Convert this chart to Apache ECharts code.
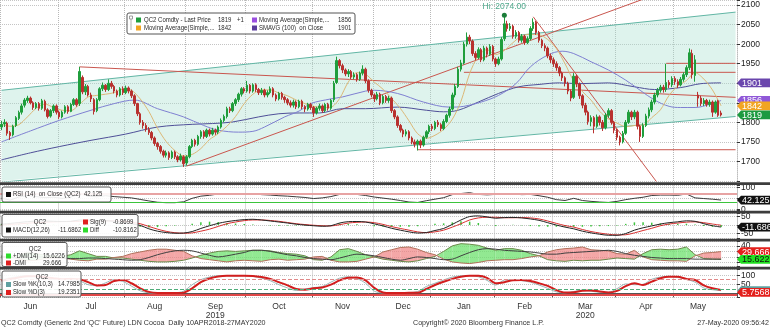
<!DOCTYPE html>
<html>
<head>
<meta charset="utf-8">
<script src="https://cdn.jsdelivr.net/npm/echarts@6/dist/echarts.min.js"></script>
<style>
  html, body { margin: 0; padding: 0; background: #ffffff; }
  #chart { width: 770px; height: 328px; }
</style>
</head>
<body>
<div id="chart"></div>
<script>
// ---------- calendar ----------
const months = ['Jun', 'Jul', 'Aug', 'Sep', 'Oct', 'Nov', 'Dec', 'Jan', 'Feb', 'Mar', 'Apr', 'May'];
const tradingDays = [20, 23, 21, 21, 23, 21, 20, 22, 20, 22, 20, 17];
const yearUnder = { Sep: '2019', Mar: '2020' };
const padDays = 5;

// ---------- daily candles [open, close, low, high] ----------
const jun19 = [[1788,1795,1780,1804],[1796,1800,1788,1808],[1798,1772,1766,1802],[1774,1766,1755,1778],[1768,1790,1764,1794],
  [1792,1812,1788,1816],[1810,1825,1806,1830],[1826,1842,1820,1848],[1844,1857,1838,1862],[1856,1862,1850,1868],
  [1862,1850,1846,1866],[1850,1838,1832,1854],[1838,1848,1834,1852],[1848,1836,1830,1852],[1836,1855,1832,1860],
  [1854,1832,1828,1858],[1832,1815,1810,1836],[1816,1830,1812,1834],[1830,1842,1824,1846],[1842,1826,1820,1846]];
const jul19 = [[1826,1814,1808,1830],[1814,1826,1810,1830],[1826,1840,1822,1844],[1840,1828,1822,1844],[1828,1846,1826,1850],
  [1846,1858,1842,1862],[1858,1845,1840,1862],[1848,1930,1842,1942],[1915,1878,1872,1920],[1878,1892,1870,1898],
  [1892,1870,1866,1896],[1870,1860,1852,1876],[1858,1828,1820,1862],[1830,1858,1826,1862],[1858,1886,1854,1890],
  [1886,1895,1880,1902],[1895,1884,1878,1898],[1884,1900,1880,1910],[1900,1892,1886,1906],[1892,1880,1874,1896],
  [1880,1870,1864,1884],[1870,1886,1866,1890],[1886,1876,1870,1892]];
const aug19 = [[1876,1888,1872,1894],[1888,1880,1874,1892],[1880,1868,1862,1884],[1868,1848,1842,1872],[1848,1822,1816,1850],
  [1822,1800,1794,1826],[1800,1792,1784,1806],[1792,1782,1776,1798],[1782,1774,1768,1788],[1774,1760,1754,1778],
  [1760,1746,1740,1764],[1746,1738,1730,1750],[1738,1726,1720,1742],[1726,1716,1710,1730],[1716,1722,1710,1728],
  [1722,1710,1704,1726],[1710,1724,1706,1728],[1724,1712,1706,1728],[1712,1704,1698,1716],[1704,1714,1700,1720],
  [1712,1694,1686,1716]];
const sep19 = [[1696,1712,1690,1716],[1712,1738,1708,1742],[1738,1754,1734,1758],[1754,1744,1738,1758],[1744,1764,1740,1768],
  [1764,1776,1758,1780],[1776,1764,1758,1780],[1764,1780,1760,1784],[1780,1770,1764,1784],[1770,1780,1766,1786],
  [1780,1775,1768,1784],[1775,1788,1770,1792],[1788,1805,1784,1810],[1805,1815,1800,1820],[1815,1835,1810,1840],
  [1835,1830,1824,1840],[1830,1848,1826,1852],[1848,1858,1842,1862],[1858,1872,1852,1876],[1872,1886,1866,1890],
  [1886,1880,1874,1890]];
const oct19 = [[1880,1895,1876,1906],[1895,1880,1874,1898],[1880,1896,1876,1900],[1896,1884,1878,1900],[1884,1876,1870,1888],
  [1876,1882,1870,1888],[1882,1870,1864,1886],[1870,1876,1864,1882],[1876,1886,1872,1892],[1886,1870,1864,1890],
  [1870,1860,1854,1874],[1860,1874,1856,1878],[1874,1864,1858,1878],[1864,1858,1850,1868],[1858,1850,1844,1862],
  [1850,1844,1838,1856],[1844,1852,1838,1858],[1852,1840,1834,1856],[1840,1854,1836,1858],[1854,1840,1834,1858],
  [1840,1834,1826,1844],[1834,1846,1830,1850],[1846,1838,1832,1850]];
const nov19 = [[1838,1824,1814,1842],[1824,1836,1820,1840],[1836,1842,1830,1848],[1842,1830,1824,1846],[1830,1846,1826,1850],
  [1846,1836,1830,1850],[1836,1856,1832,1860],[1858,1900,1852,1906],[1902,1958,1898,1968],[1958,1945,1938,1962],
  [1945,1934,1926,1950],[1934,1924,1918,1938],[1924,1930,1916,1936],[1930,1916,1910,1934],[1916,1922,1910,1928],
  [1922,1910,1904,1926],[1910,1926,1906,1930],[1926,1936,1920,1946],[1936,1906,1900,1940],[1906,1882,1876,1910],
  [1882,1870,1864,1886]];
const dec19 = [[1870,1860,1852,1874],[1860,1872,1856,1878],[1872,1850,1844,1876],[1850,1866,1846,1870],[1866,1856,1850,1870],
  [1856,1862,1850,1868],[1862,1830,1824,1866],[1830,1814,1808,1834],[1814,1792,1786,1818],[1792,1780,1774,1796],
  [1780,1770,1762,1784],[1770,1776,1764,1782],[1776,1760,1754,1780],[1760,1750,1744,1764],[1750,1744,1736,1756],
  [1744,1752,1728,1756],[1752,1742,1734,1756],[1742,1762,1738,1766],[1762,1776,1758,1780],[1776,1790,1770,1794]];
const jan20 = [[1790,1784,1778,1796],[1784,1800,1780,1804],[1800,1794,1788,1806],[1794,1784,1778,1798],[1784,1802,1780,1808],
  [1802,1818,1798,1822],[1818,1834,1812,1840],[1834,1870,1830,1876],[1870,1892,1864,1898],[1892,1936,1888,1942],
  [1936,1952,1930,1960],[1952,2000,1948,2006],[2000,2018,1994,2030],[2018,2008,2000,2024],[2008,1976,1970,2012],
  [1976,1966,1958,1982],[1966,1986,1962,1992],[1986,1960,1954,1990],[1960,1990,1956,1996],[1990,1974,1966,1994],
  [1974,1994,1970,2000],[1994,1962,1956,1998]];
const feb20 = [[1962,1950,1942,1966],[1950,1962,1946,1968],[1962,2012,1958,2018],[2014,2052,2008,2074],[2052,2040,2032,2060],
  [2040,2046,2034,2054],[2046,2020,2014,2050],[2020,2030,2014,2036],[2030,2010,2004,2034],[2010,2020,2004,2026],
  [2020,2004,1998,2024],[2004,2014,2000,2020],[2014,2040,2010,2046],[2040,2056,2034,2066],[2056,2030,2024,2060],
  [2030,2010,2004,2034],[2010,1996,1990,2014],[1996,1990,1982,2002],[1990,1970,1964,1994],[1970,1960,1952,1976]];
const mar20 = [[1960,1950,1942,1966],[1950,1940,1932,1956],[1940,1926,1918,1944],[1926,1914,1906,1930],[1914,1900,1892,1918],
  [1900,1880,1872,1904],[1880,1862,1854,1884],[1864,1918,1860,1926],[1918,1898,1890,1922],[1898,1868,1860,1902],
  [1868,1844,1836,1872],[1844,1826,1818,1850],[1826,1802,1794,1830],[1802,1812,1790,1818],[1812,1790,1772,1816],
  [1790,1814,1786,1820],[1814,1800,1792,1818],[1800,1786,1778,1806],[1786,1818,1782,1824],[1818,1830,1812,1836],
  [1830,1800,1794,1834],[1800,1780,1772,1804]];
const apr20 = [[1780,1762,1754,1784],[1762,1750,1741,1766],[1750,1772,1746,1778],[1772,1800,1768,1806],[1800,1826,1796,1832],
  [1826,1814,1806,1830],[1814,1826,1808,1832],[1826,1790,1782,1830],[1790,1764,1750,1794],[1764,1792,1760,1798],
  [1792,1816,1788,1822],[1816,1832,1810,1838],[1832,1852,1826,1858],[1852,1870,1846,1876],[1870,1882,1864,1888],
  [1882,1890,1876,1896],[1890,1884,1876,1896],[1884,1902,1878,1950],[1902,1896,1888,1908],[1896,1912,1890,1918]];
const may20 = [[1912,1904,1896,1918],[1904,1896,1888,1910],[1896,1910,1892,1916],[1910,1922,1904,1928],[1922,1940,1916,1946],
  [1940,1978,1934,1989],[1976,1922,1912,1986],[1920,1960,1904,1972],[1870,1862,1840,1878],[1862,1848,1842,1868],
  [1848,1856,1842,1862],[1856,1846,1840,1860],[1846,1852,1840,1858],[1852,1826,1814,1856],[1826,1852,1822,1856],
  [1855,1818,1814,1858],[1824,1819,1815,1830]];

// ---------- moving averages ----------
// short simple average, one reading every third session
const maFast = [1795,1790,1794,1814,1836,1847,1838,1831,1830,1846,
  1865,1869,1872,1876,1885,1882,1860,1828,1785,1751,
  1728,1714,1718,1733,1756,1771,1790,1815,1848,1872,
  1883,1883,1875,1868,1857,1848,1841,1838,1839,1861,
  1903,1927,1923,1903,1885,1861,1836,1804,1771,1759,
  1767,1782,1808,1854,1925,1970,1986,1973,1984,2004,
  2021,2025,2024,2012,1989,1950,1906,1879,1857,1828,
  1809,1798,1789,1792,1793,1812,1832,1869,1893,1907,
  1927,1911,1883,1842];
const maMidIdx = [0,10,20,31,39,46,54,63,70,75,82,87,91,98,103,107,114,118,126,129,137,146,155,160,166,172,178,183,189,194,198,204,210,216,221,226,231,235,240,245,249];
const maMidVal = [1750,1778,1805,1831,1848,1857,1835,1814,1792,1780,1775,1777,1788,1814,1829,1848,1860,1865,1880,1882,1874,1852,1839,1841,1852,1869,1899,1942,1972,1982,1976,1955,1934,1908,1882,1857,1841,1838,1838,1846,1856];
const ma100Idx = [0,10,20,31,43,54,66,73,80,89,96,103,110,118,126,137,147,153,158,165,172,179,186,193,200,210,219,226,235,242,249];
const ma100Val = [1704,1722,1738,1754,1770,1788,1795,1797,1801,1814,1822,1824,1824,1835,1835,1839,1831,1827,1831,1852,1874,1891,1897,1901,1899,1901,1891,1884,1889,1899,1901];

// ---------- studies, one reading every third session ----------
const rsi = [50,42,56,63,58,53,55,50,55,72, 60,57,62,58,55,52,45,38,32,30,
  30,34,50,60,64,70,70,70,71,72, 67,65,62,60,57,54,49,52,58,68,
  70,68,63,56,51,46,40,33,31,39, 46,53,67,72,76,68,66,68,72,70,
  67,68,62,55,44,40,50,40,36,33, 31,36,44,50,55,63,65,65,64,70,
  52,49,46,42.125];
const macd = [5,10,15,20,23,24,22,21,22,30, 30,27,26,22,16,8,-2,-22,-36,-44,
  -48,-47,-38,-20,-4,10,20,27,32,34, 30,24,18,12,5,0,-4,-7,-4,12,
  20,21,18,7,-5,-19,-30,-40,-47,-44, -32,-20,4,30,50,54,48,40,44,45,
  42,36,28,14,0,-12,-22,-36,-46,-54, -60,-60,-50,-30,-16,-5,6,14,19,25,
  22,8,-4,-11.68618];
const macdSig = [0,4,7,11,14,17,19,20,21,22, 24,25,25,24,22,16,8,-8,-24,-37,
  -45,-48,-46,-36,-24,-8,8,18,26,30, 30,27,22,15,8,3,-1,-4,-5,2,
  12,16,18,14,4,-9,-20,-30,-40,-45, -40,-30,-12,8,30,42,46,46,43,43,
  44,42,36,24,10,-3,-12,-26,-38,-47, -54,-58,-57,-46,-32,-19,-4,6,12,17,
  19,14,6,-0.86994];
const plusDmi = [22,18,24,28,26,23,22,21,24,31, 26,21,21,18,18,16,14,12,11,11,
  12,14,18,23,27,30,31,30,31,32, 32,31,28,26,25,22,15,14,20,33,
  35,30,24,20,16,14,12,11,13,17, 21,30,40,44,43,41,36,32,35,35,
  32,26,22,15,13,12,14,13,14,14, 16,18,17,16,26,33,34,33,34,38,
  24,17,16,15.6226];
const minusDmi = [18,22,16,13,14,17,18,18,16,14, 13,16,16,19,21,26,29,32,34,34,
  32,30,22,17,15,13,11,13,14,13, 12,15,16,14,15,16,20,21,14,11,
  11,12,16,20,29,33,37,38,34,28, 24,16,11,9,8,10,13,14,15,15,
  17,20,22,29,33,35,36,38,33,32, 31,26,25,32,20,15,14,13,13,12,
  22,27,28,29.666];
const adx = [20,19,18,19,20,20,19,18,17,17, 18,18,17,16,15,14,15,19,24,28,
  31,32,31,27,23,20,22,25,28,32, 32,30,27,24,22,19,17,16,15,18,
  22,25,24,22,19,16,14,17,20,19, 17,15,16,22,28,33,35,34,32,31,
  30,29,27,25,25,27,28,29,30,31, 32,30,26,23,21,19,18,17,17,17,
  16,16,16,16];
const slowK = [76,86,94,97,92,86,78,76,84,70, 48,42,58,76,66,40,14,3,1,2,
  3,12,48,76,90,98,98,96,98,94, 84,70,48,30,16,24,32,38,62,84,
  92,82,56,12,2,1,3,4,10,38, 56,74,90,97,98,92,72,46,74,76,
  70,62,46,28,8,3,10,18,12,6, 6,26,52,48,50,78,90,95,88,78,
  62,30,20,14.7985];
const slowD = [70,80,88,94,95,90,84,78,80,78, 62,44,46,68,74,56,28,8,2,2,
  2,4,28,62,82,93,97,97,97,96, 90,80,62,44,24,20,28,32,48,72,
  87,88,72,30,5,2,2,3,3,24, 46,64,80,92,97,97,86,56,62,73,
  74,68,56,41,18,5,6,14,16,10, 5,14,40,56,46,65,84,92,92,80,
  74,44,28,19.2351];
const stochTag = 5.7568;

// ---------- trend lines [session, price] ----------
const channelUpper = [[0, 1882], [254, 2082]];
const channelLower = [[0, 1647], [254, 1815]];
const julyHighLine = [[27, 1942], [254, 1864]];
const augLowLine = [[64, 1688], [222, 2115]];
const febHighLine = [[184, 2070], [230, 1615]];
const levelLines = [[[144, 1730], [254, 1730]], [[160, 1928], [254, 1928]], [[230, 1951], [254, 1951]]];

// ---------- derived structures ----------
const ohlc = [].concat(jun19, jul19, aug19, sep19, oct19, nov19, dec19, jan20, feb20, mar20, apr20, may20);
const categories = [];
const monthStart = new Set();
const midMonth = new Set();
months.forEach((m, k) => {
  monthStart.add(categories.length);
  midMonth.add(categories.length + Math.floor(tradingDays[k] / 2));
  for (let d = 1; d <= tradingDays[k]; d++) categories.push(m + '#' + d);
});
for (let p = 1; p <= padDays; p++) categories.push('pad#' + p);

const sampleIdx = rsi.map((_, i) => i * 3);
const pairs = (vals) => vals.map((v, i) => [sampleIdx[i], v]);
const zipIdx = (idx, vals) => idx.map((x, i) => [x, vals[i]]);
const macdDiff = macd.map((v, i) => v - macdSig[i]);

let hiIdx = 0;
ohlc.forEach((c, i) => { if (c[3] > ohlc[hiIdx][3]) hiIdx = i; });
const hiVal = ohlc[hiIdx][3];
const last = (a) => a[a.length - 1];
const fmt4 = (v) => v.toFixed(4);

const FONT = "'Liberation Sans',Arial,sans-serif";
const UP = '#1f9e3c', DOWN = '#b8312f';
const GRID_RIGHT = 33, WIDTH = 770;

// ---------- axes ----------
function xAxisFor(gridIndex, withLabels) {
  return {
    type: 'category', gridIndex, data: categories, boundaryGap: true,
    axisLine: { show: withLabels, lineStyle: { color: '#555', width: 1 } },
    axisTick: { show: withLabels, interval: (i) => monthStart.has(i), length: 4, lineStyle: { color: '#555' } },
    axisLabel: {
      show: withLabels, interval: (i) => midMonth.has(i), margin: 5,
      fontSize: 8.5, fontFamily: FONT, color: '#333', lineHeight: 9,
      formatter: (v) => { const m = String(v).split('#')[0]; return yearUnder[m] ? m + '\n' + yearUnder[m] : m; }
    },
    splitLine: { show: true, interval: (i) => monthStart.has(i), lineStyle: { color: '#b8b8b8', type: 'dotted', width: 1 } }
  };
}
function yAxisFor(gridIndex, opts) {
  return Object.assign({
    type: 'value', gridIndex, position: 'right',
    axisLine: { show: true, lineStyle: { color: '#bdbdbd', type: 'dotted' } },
    axisTick: { show: true, length: 3, lineStyle: { color: '#333' } },
    axisLabel: {
      show: true, margin: 4, fontSize: 8.5, fontFamily: FONT, color: '#222',
      formatter: (v) => (opts.shown.indexOf(v) >= 0 ? String(v) : '')
    },
    splitLine: { show: true, lineStyle: { color: '#c4c4c4', type: 'dotted' } }
  }, opts.base);
}

// ---------- helpers ----------
function trend(data, color) {
  return { type: 'line', data, symbol: 'none', silent: true, z: 2,
    clip: true, lineStyle: { color, width: 1 } };
}
function legendText(x, y, text, opt, sx) {
  return { type: 'text', x, y, scaleX: sx || 0.86, z: 101, silent: true,
    style: Object.assign({ text, fill: '#2b2b2b', fontSize: 7, fontFamily: FONT, verticalAlign: 'middle', align: 'left' }, opt || {}) };
}
function swatch(x, y, color) {
  return { type: 'rect', z: 101, silent: true, shape: { x, y: y - 2.5, width: 5, height: 5 }, style: { fill: color } };
}
function box(x, y, w, h) {
  return { type: 'rect', z: 100, silent: true, shape: { x, y, width: w, height: h, r: 2 },
    style: { fill: 'rgba(255,255,255,0.9)', stroke: '#555', lineWidth: 1 } };
}

// ---------- directional movement fill ----------
const dmiFill = {
  type: 'custom', xAxisIndex: 3, yAxisIndex: 3, silent: true, z: 1,
  data: sampleIdx.map((x, i) => [x, plusDmi[i], minusDmi[i]]),
  encode: { x: 0, y: [1, 2] },
  renderItem: (params, api) => {
    const i = params.dataIndex;
    if (i >= sampleIdx.length - 1) return { type: 'group', children: [] };
    const x0 = sampleIdx[i], x1 = sampleIdx[i + 1];
    const p0 = plusDmi[i], m0 = minusDmi[i], p1 = plusDmi[i + 1], m1 = minusDmi[i + 1];
    const d0 = p0 - m0, d1 = p1 - m1;
    const pt = (x, y) => api.coord([x, y]);
    const poly = (pts, up) => ({ type: 'polygon', shape: { points: pts },
      style: { fill: up ? 'rgba(110,226,110,0.75)' : 'rgba(240,130,130,0.7)' } });
    const kids = [];
    if (d0 * d1 >= 0) {
      kids.push(poly([pt(x0, p0), pt(x1, p1), pt(x1, m1), pt(x0, m0)], d0 + d1 >= 0));
    } else {
      const t = d0 / (d0 - d1);
      const xc = x0 + t * (x1 - x0), yc = p0 + t * (p1 - p0);
      kids.push(poly([pt(x0, p0), pt(xc, yc), pt(x0, m0)], d0 > 0));
      kids.push(poly([pt(xc, yc), pt(x1, p1), pt(x1, m1)], d1 > 0));
    }
    return { type: 'group', children: kids };
  }
};

// ---------- regression channel fill ----------
const channelFill = {
  type: 'custom', xAxisIndex: 0, yAxisIndex: 0, silent: true, z: 1,
  data: [[0]],
  renderItem: (params, api) => {
    const pts = [api.coord(channelLower[0]), api.coord(channelUpper[0]), api.coord(channelUpper[1]), api.coord(channelLower[1])];
    const cs = params.coordSys;
    const clipped = echarts.graphic.clipPointsByRect(pts, { x: cs.x, y: cs.y, width: cs.width, height: cs.height });
    return { type: 'polygon', shape: { points: clipped }, style: { fill: 'rgba(168,224,208,0.38)' } };
  }
};

const staticGraphics = [
  // panel separators
  { type: 'rect', z: 90, silent: true, shape: { x: 0, y: 182.3, width: WIDTH, height: 2.8 }, style: { fill: '#3d3d3d' } },
  { type: 'rect', z: 90, silent: true, shape: { x: 0, y: 210.8, width: WIDTH, height: 2.6 }, style: { fill: '#3d3d3d' } },
  { type: 'rect', z: 90, silent: true, shape: { x: 0, y: 238.8, width: WIDTH, height: 2.6 }, style: { fill: '#3d3d3d' } },
  { type: 'rect', z: 90, silent: true, shape: { x: 0, y: 266.8, width: WIDTH, height: 2.6 }, style: { fill: '#3d3d3d' } },

  // price legend
  box(127, 13, 228, 21),
  { type: 'rect', z: 101, silent: true, shape: { x: 129.5, y: 16, width: 3, height: 3 }, style: { fill: 'none', stroke: '#888', lineWidth: 0.8 } },
  { type: 'line', z: 101, silent: true, shape: { x1: 131, y1: 19, x2: 131, y2: 30 }, style: { stroke: '#999', lineWidth: 0.8 } },
  swatch(136, 20, '#1f9e3c'), legendText(144, 20, 'QC2 Comdty - Last Price'),
  legendText(218, 20, String(last(ohlc)[1])), legendText(237, 20, '+1'),
  swatch(136, 28, '#f2a522'), legendText(144, 28, 'Moving Average(Simple,...'), legendText(218, 28, String(last(maFast))),
  swatch(252, 20, '#9b4ee0'), legendText(259, 20, 'Moving Average(Simple,...'), legendText(338, 20, String(last(maMidVal))),
  swatch(252, 28, '#5a3c9c'), legendText(259, 28, 'SMAVG (100)  on Close'), legendText(338, 28, String(last(ma100Val))),

  // RSI legend
  box(2, 187, 109, 15),
  swatch(6, 194.5, '#111111'), legendText(13, 194.5, 'RSI (14)  on Close (QC2)  ' + last(rsi)),

  // MACD legend
  box(2, 214.5, 136, 22.5),
  legendText(40, 222, 'QC2', { align: 'center' }),
  swatch(83, 222, '#e02020'), legendText(90, 222, 'Sig(9)'), legendText(113, 222, fmt4(last(macdSig))),
  swatch(6, 230, '#111111'), legendText(13, 230, 'MACD(12,26)'), legendText(58, 230, fmt4(last(macd))),
  swatch(83, 230, '#2edc2e'), legendText(90, 230, 'Diff'), legendText(113, 230, fmt4(last(macdDiff))),

  // DMI legend
  box(2, 242.5, 65, 24),
  legendText(35, 249, 'QC2', { align: 'center' }),
  swatch(6, 256, '#2edc2e'), legendText(13, 256, '+DMI(14)'), legendText(43, 256, String(last(plusDmi))),
  swatch(6, 263, '#e02020'), legendText(13, 263, '-DMI'), legendText(43, 263, String(last(minusDmi))),

  // stochastic legend
  box(2, 271, 79, 26),
  legendText(42, 277.5, 'QC2', { align: 'center' }),
  swatch(6, 284.5, '#5fa0a0'), legendText(13, 284.5, 'Slow %K(10,3)'), legendText(58, 284.5, String(last(slowK))),
  swatch(6, 292.5, '#e02020'), legendText(13, 292.5, 'Slow %D(3)'), legendText(58, 292.5, String(last(slowD))),

  // footer
  legendText(1, 323, "QC2 Comdty (Generic 2nd 'QC' Future) LDN Cocoa  Daily 10APR2018-27MAY2020", { fontSize: 8, fill: '#333' }, 0.89),
  legendText(413, 323, 'Copyright\u00A9 2020 Bloomberg Finance L.P.', { fontSize: 8, fill: '#333' }, 0.89),
  legendText(769, 323, '27-May-2020 09:56:42', { fontSize: 8, fill: '#333', align: 'right' }, 0.89)
];

const chart = echarts.init(document.getElementById('chart'), null, { renderer: 'canvas' });

const option = {
  animation: false,
  backgroundColor: '#ffffff',
  grid: [
    { left: 0, right: GRID_RIGHT, top: 0, height: 181, containLabel: false, outerBoundsMode: 'none' },
    { left: 0, right: GRID_RIGHT, top: 185.5, height: 25, containLabel: false, outerBoundsMode: 'none' },
    { left: 0, right: GRID_RIGHT, top: 213.5, height: 25, containLabel: false, outerBoundsMode: 'none' },
    { left: 0, right: GRID_RIGHT, top: 241.5, height: 25, containLabel: false, outerBoundsMode: 'none' },
    { left: 0, right: GRID_RIGHT, top: 269.5, height: 28, containLabel: false, outerBoundsMode: 'none' }
  ],
  xAxis: [xAxisFor(0, false), xAxisFor(1, false), xAxisFor(2, false), xAxisFor(3, false), xAxisFor(4, true)],
  yAxis: [
    yAxisFor(0, { base: { min: 1650, max: 2113, interval: 50 }, shown: [1700, 1750, 1800, 1850, 1900, 1950, 2000, 2050, 2100] }),
    yAxisFor(1, { base: { min: -6, max: 109, splitNumber: 2 }, shown: [0, 100] }),
    yAxisFor(2, { base: { min: -79, max: 68, splitNumber: 3 }, shown: [50, -50] }),
    yAxisFor(3, { base: { min: 2.7, max: 47.9, splitNumber: 4 }, shown: [40] }),
    yAxisFor(4, { base: { min: -23, max: 132, splitNumber: 3 }, shown: [100, 50] })
  ],
  series: [
    channelFill,
    trend(channelUpper, '#62b6a5'),
    trend(channelLower, '#62b6a5'),
    trend(julyHighLine, '#c9564e'),
    trend(augLowLine, '#c9564e'),
    trend(febHighLine, '#c9564e'),
    trend(levelLines[0], '#c9564e'),
    trend(levelLines[1], '#c9564e'),
    trend(levelLines[2], '#c9564e'),
    { type: 'line', name: 'SMAVG (100)', data: zipIdx(ma100Idx, ma100Val), symbol: 'none', smooth: 0.35, silent: true, z: 3,
      lineStyle: { color: '#4f4f98', width: 1 } },
    { type: 'line', name: 'MA mid', data: zipIdx(maMidIdx, maMidVal), symbol: 'none', smooth: 0.35, silent: true, z: 3,
      lineStyle: { color: '#7f80d2', width: 1 } },
    { type: 'line', name: 'MA fast', data: pairs(maFast), symbol: 'none', smooth: 0.3, silent: true, z: 3,
      lineStyle: { color: '#dcb877', width: 1 } },
    { type: 'candlestick', name: 'QC2', data: ohlc, barWidth: 2, z: 4, silent: true,
      itemStyle: { color: UP, color0: DOWN, borderColor: UP, borderColor0: DOWN, borderWidth: 1 },
      markPoint: { silent: true, animation: false, symbol: 'circle', symbolSize: 5,
        itemStyle: { color: '#1b7d3a' },
        label: { show: true, position: 'top', distance: 2, color: '#4fa98c', fontSize: 8.5, fontFamily: FONT,
          formatter: 'Hi: ' + hiVal.toFixed(2) },
        data: [{ coord: [hiIdx, hiVal] }] } },

    // RSI
    { type: 'line', xAxisIndex: 1, yAxisIndex: 1, data: pairs(rsi), symbol: 'none', silent: true, z: 3,
      lineStyle: { color: '#3a3a3a', width: 1 },
      markLine: { silent: true, symbol: ['none', 'none'], animation: false, label: { show: false },
        data: [{ yAxis: 70, lineStyle: { color: '#e7a3a3', width: 2, type: 'solid' } },
               { yAxis: 30, lineStyle: { color: '#3cc43c', width: 1, type: 'solid' } }] } },

    // MACD
    { type: 'bar', xAxisIndex: 2, yAxisIndex: 2, data: pairs(macdDiff), barWidth: 1.5, silent: true, z: 2,
      itemStyle: { color: '#3dc43d' } },
    { type: 'line', xAxisIndex: 2, yAxisIndex: 2, data: pairs(macdSig), symbol: 'none', smooth: 0.3, silent: true, z: 3,
      lineStyle: { color: '#d83030', width: 1 } },
    { type: 'line', xAxisIndex: 2, yAxisIndex: 2, data: pairs(macd), symbol: 'none', smooth: 0.3, silent: true, z: 3,
      lineStyle: { color: '#222222', width: 1 } },

    // DMI
    dmiFill,
    { type: 'line', xAxisIndex: 3, yAxisIndex: 3, data: pairs(plusDmi), symbol: 'none', silent: true, z: 3,
      lineStyle: { color: '#6a8a4a', width: 1 } },
    { type: 'line', xAxisIndex: 3, yAxisIndex: 3, data: pairs(minusDmi), symbol: 'none', silent: true, z: 3,
      lineStyle: { color: '#b0705a', width: 1 } },
    { type: 'line', xAxisIndex: 3, yAxisIndex: 3, data: pairs(adx), symbol: 'none', smooth: 0.3, silent: true, z: 3,
      lineStyle: { color: '#404040', width: 1 } },

    // Stochastic
    { type: 'line', xAxisIndex: 4, yAxisIndex: 4, data: pairs(slowK), symbol: 'none', smooth: 0.3, silent: true, z: 3,
      lineStyle: { color: '#9ab6b6', width: 1 },
      markLine: { silent: true, symbol: ['none', 'none'], animation: false, label: { show: false },
        data: [{ yAxis: 80, lineStyle: { color: '#e08a8a', width: 1, type: 'dashed' } },
               { yAxis: 20, lineStyle: { color: '#4fae7a', width: 1, type: 'dashed' } },
               { yAxis: -9, lineStyle: { color: '#e04848', width: 2, type: 'solid' } }] } },
    { type: 'line', xAxisIndex: 4, yAxisIndex: 4, data: pairs(slowD), symbol: 'none', smooth: 0.3, silent: true, z: 4,
      lineStyle: { color: '#d21e1e', width: 2 } }
  ],
  graphic: staticGraphics
};

chart.setOption(option);

// ---------- value tags on the right edge, placed through each panel's value axis ----------
const tags = [
  { axis: 0, value: last(ma100Val), text: String(last(ma100Val)), bg: '#6a46ad', fg: '#ffffff' },
  { axis: 0, value: last(maMidVal), text: String(last(maMidVal)), bg: '#9058d8', fg: '#ffffff' },
  { axis: 0, value: last(maFast), text: String(last(maFast)), bg: '#f2a522', fg: '#ffffff' },
  { axis: 0, value: last(ohlc)[1], text: String(last(ohlc)[1]), bg: '#1c9a40', fg: '#ffffff' },
  { axis: 1, value: last(rsi), text: String(last(rsi)), bg: '#111111', fg: '#ffffff' },
  { axis: 2, value: last(macd), text: fmt4(last(macd)), bg: '#111111', fg: '#ffffff' },
  { axis: 3, value: last(minusDmi), text: String(last(minusDmi)), bg: '#e3201c', fg: '#ffffff' },
  { axis: 3, value: last(plusDmi), text: String(last(plusDmi)), bg: '#22e022', fg: '#111111' },
  { axis: 4, value: last(slowK), text: String(last(slowK)), bg: '#5fa0a0', fg: '#ffffff' },
  { axis: 4, value: stochTag, text: String(stochTag), bg: '#e3201c', fg: '#ffffff' }
];
const x0 = WIDTH - GRID_RIGHT;
const tagGraphics = [];
tags.forEach((t, k) => {
  const y = chart.convertToPixel({ yAxisIndex: t.axis }, t.value);
  const h = 4.4;
  tagGraphics.push({ type: 'polygon', z: 110 + 2 * k, silent: true,
    shape: { points: [[x0, y], [x0 + 4, y - h], [WIDTH, y - h], [WIDTH, y + h], [x0 + 4, y + h]] },
    style: { fill: t.bg } });
  tagGraphics.push({ type: 'text', z: 111 + 2 * k, silent: true, x: x0 + 5, y: y + 0.5,
    style: { text: t.text, fill: t.fg, fontSize: 9, fontFamily: FONT, verticalAlign: 'middle', align: 'left' } });
});
chart.setOption({ graphic: staticGraphics.concat(tagGraphics) });
</script>
</body>
</html>
